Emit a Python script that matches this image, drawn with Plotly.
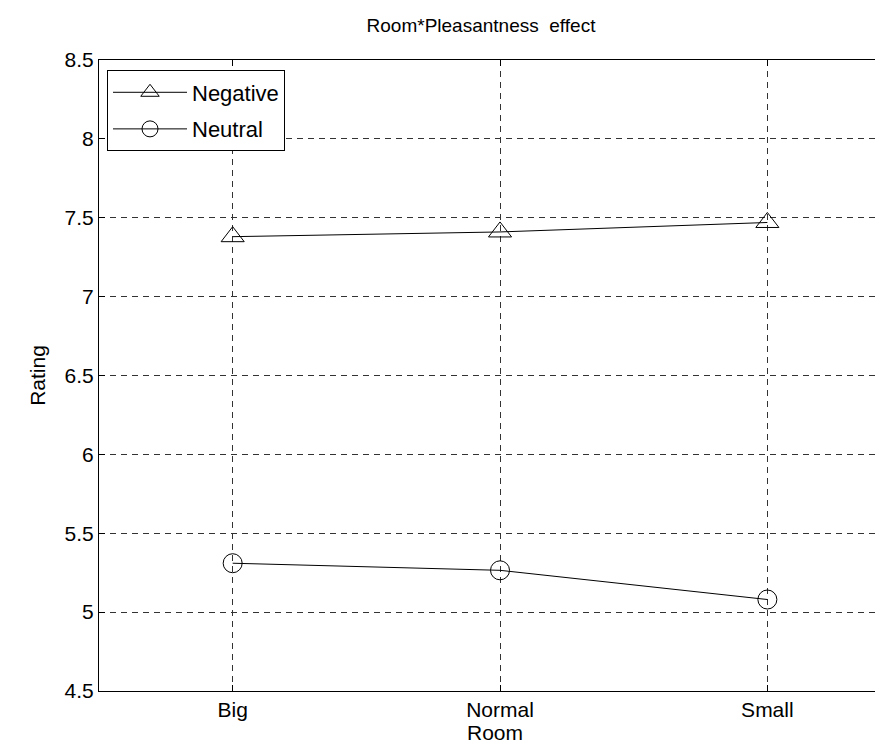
import plotly.graph_objects as go

rooms = ["Big", "Normal", "Small"]
room_pos = [1, 2, 3]
negative = [7.38, 7.41, 7.47]
neutral = [5.31, 5.265, 5.08]
y_ticks = [4.5, 5, 5.5, 6, 6.5, 7, 7.5, 8, 8.5]
y_tick_labels = ["4.5", "5", "5.5", "6", "6.5", "7", "7.5", "8", "8.5"]

FONT = "Liberation Sans, Arial, sans-serif"
FS = 21

W, H = 883, 745
L, T, B, R = 91, 51.5, 61.7, 0
X_END = 3 + (W - 759.3) / 267.5  # axes continue past the picture's right edge

fig = go.Figure()
fig.add_trace(go.Scatter(
    x=room_pos, y=negative, name="Negative", mode="lines+markers",
    legendgroup="neg",
    line=dict(color="black", width=1),
    marker=dict(symbol="triangle-up-open", size=20, color="black", line=dict(width=1)),
))
fig.add_trace(go.Scatter(
    x=room_pos, y=neutral, name="Neutral", mode="lines+markers",
    legendgroup="neu",
    line=dict(color="black", width=1),
    marker=dict(symbol="circle-open", size=19, color="black", line=dict(width=1)),
))

fig.update_layout(
    width=W, height=H,
    margin=dict(l=L, r=R, t=T, b=B, pad=0),
    paper_bgcolor="white", plot_bgcolor="white",
    font=dict(family=FONT, size=FS, color="black"),
    title=dict(text="Room*Pleasantness  effect", x=473 / W, xref="container", xanchor="center",
               y=1 - 17 / H, yref="container", yanchor="middle", font=dict(size=19)),
    legend=dict(x=(99 - L) / (W - L - R), y=1 - (62 - T) / (H - T - B),
                xanchor="left", yanchor="top",
                bgcolor="white", bordercolor="black", borderwidth=1,
                font=dict(size=22), itemwidth=74, traceorder="grouped", tracegroupgap=5,
                entrywidth=100, entrywidthmode="pixels"),
    showlegend=True,
)
fig.update_xaxes(
    range=[0.5, X_END], tickvals=room_pos, ticktext=rooms,
    showline=True, linecolor="black", linewidth=1, mirror="ticks",
    ticks="inside", ticklen=6, tickcolor="black",
    showgrid=True, gridcolor="#333333", gridwidth=1, griddash="6px,5px",
    zeroline=False, title=dict(text="Room", standoff=5, font=dict(size=FS)),
    tickfont=dict(size=FS),
)
fig.update_yaxes(
    range=[4.5, 8.5], tickvals=y_ticks, ticktext=y_tick_labels,
    showline=True, linecolor="black", linewidth=1, mirror=False,
    ticks="inside", ticklen=6, tickcolor="black",
    showgrid=True, gridcolor="#333333", gridwidth=1, griddash="6px,5px",
    zeroline=False, title=dict(text="Rating", standoff=13, font=dict(size=FS)),
    tickfont=dict(size=FS),
)

fig.write_html("out.html")
